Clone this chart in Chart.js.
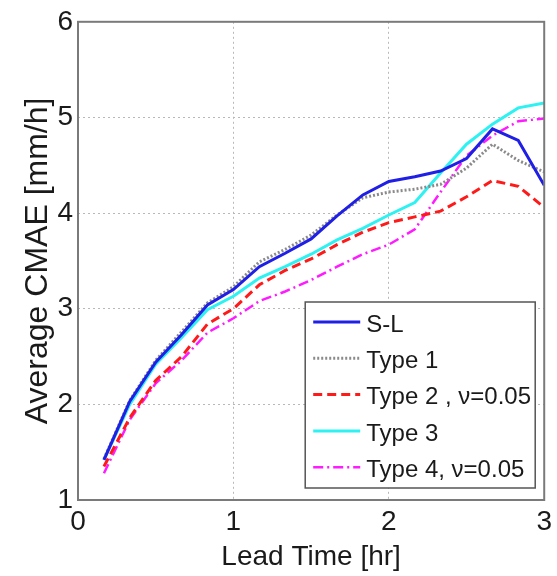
<!DOCTYPE html>
<html>
<head>
<meta charset="utf-8">
<script src="https://cdn.jsdelivr.net/npm/chart.js@4/dist/chart.umd.min.js"></script>
<style>
  html, body { margin: 0; padding: 0; background: #fff; }
  #wrap { width: 557px; height: 576px; }
</style>
</head>
<body>
<div id="wrap"><canvas id="cmae"></canvas></div>
<script>
// Lead time (hr) and average CMAE (mm/h) per model
const leadTime = [0.167, 0.333, 0.5, 0.667, 0.833, 1.0, 1.167, 1.333, 1.5, 1.667, 1.833, 2.0, 2.167, 2.333, 2.5, 2.667, 2.833, 3.0];
const sL    = [1.42, 2.03, 2.44, 2.73, 3.04, 3.20, 3.44, 3.58, 3.73, 3.97, 4.19, 4.33, 4.38, 4.44, 4.57, 4.88, 4.76, 4.29];
const type1 = [1.43, 2.04, 2.46, 2.76, 3.06, 3.23, 3.49, 3.62, 3.77, 3.98, 4.16, 4.22, 4.25, 4.30, 4.47, 4.72, 4.55, 4.43];
const type2 = [1.35, 1.86, 2.25, 2.50, 2.84, 3.00, 3.25, 3.40, 3.52, 3.67, 3.80, 3.90, 3.96, 4.02, 4.17, 4.34, 4.28, 4.06];
const type3 = [1.42, 2.00, 2.42, 2.70, 2.99, 3.13, 3.32, 3.44, 3.57, 3.72, 3.84, 3.98, 4.11, 4.42, 4.72, 4.93, 5.10, 5.15];
const type4 = [1.28, 1.84, 2.22, 2.46, 2.75, 2.90, 3.08, 3.18, 3.30, 3.44, 3.57, 3.67, 3.83, 4.22, 4.60, 4.81, 4.96, 4.99];

const seriesLabels = ['S-L', 'Type 1', 'Type 2 , \u03bd=0.05', 'Type 3', 'Type 4, \u03bd=0.05'];
const xTicks = [0, 1, 2, 3];
const yTicks = [1, 2, 3, 4, 5, 6];

const FONT = "'Liberation Sans', Arial, sans-serif";

const pts = arr => arr.map((v, i) => ({ x: leadTime[i], y: v }));

const styles = [
    { color: '#1f1fe6', width: 3, dash: [] },
    { color: '#8a8a8a', width: 3, dash: [2, 2] },
    { color: '#ff1a1a', width: 3, dash: [9, 5] },
    { color: '#2ef2f2', width: 3, dash: [] },
    { color: '#ff1aff', width: 2.5, dash: [10, 4, 2, 4] },
];
const allSeries = [sL, type1, type2, type3, type4];

const datasets = allSeries.map((s, i) => ({
    label: seriesLabels[i],
    data: pts(s),
    borderColor: styles[i].color,
    borderWidth: styles[i].width,
    borderDash: styles[i].dash,
    pointRadius: 0,
    tension: 0,
    fill: false,
}));

// Box around the axes + legend inside the plot (MATLAB style)
const framePlugin = {
    id: 'frame',
    afterDatasetsDraw: (chart) => {
        const { ctx: c, chartArea: a } = chart;
        c.save();
        c.strokeStyle = '#7a7a7a';
        c.lineWidth = 2;
        c.strokeRect(a.left, a.top, a.right - a.left, a.bottom - a.top);

        // legend
        const w = 230, h = 186;
        const bx = a.right - 9 - w, by = a.bottom - 12 - h;
        c.fillStyle = '#fff';
        c.fillRect(bx, by, w, h);
        c.strokeStyle = '#555';
        c.lineWidth = 1.5;
        c.strokeRect(bx, by, w, h);
        c.font = '24px ' + FONT;
        c.textBaseline = 'middle';
        c.textAlign = 'left';
        seriesLabels.forEach((lab, i) => {
            const y = by + 20 + i * 36.3;
            c.beginPath();
            c.setLineDash(styles[i].dash);
            c.strokeStyle = styles[i].color;
            c.lineWidth = styles[i].width;
            c.moveTo(bx + 8, y);
            c.lineTo(bx + 55, y);
            c.stroke();
            c.setLineDash([]);
            c.fillStyle = '#1a1a1a';
            c.fillText(lab, bx + 61, y + 3);
        });
        c.restore();
    },
};

new Chart(document.getElementById('cmae'), {
    type: 'line',
    data: { datasets },
    options: {
        responsive: true,
        maintainAspectRatio: false,
        animation: false,
        layout: { padding: { top: 19, right: 11, left: 0, bottom: 0 } },
        plugins: { legend: { display: false }, tooltip: { enabled: false } },
        scales: {
            x: {
                type: 'linear',
                min: 0, max: 3,
                afterBuildTicks: (ax) => { ax.ticks = xTicks.map(v => ({ value: v })); },
                afterFit: (ax) => { ax.height = 76; },
                border: { display: false, dash: [2, 3] },
                grid: { color: '#b8b8b8', drawTicks: false, lineWidth: 1 },
                ticks: { font: { family: FONT, size: 28 }, color: '#1a1a1a', padding: 5 },
                title: { display: true, text: 'Lead Time [hr]', font: { family: FONT, size: 28 }, color: '#1a1a1a', padding: { top: 0, bottom: 2 } },
            },
            y: {
                min: 1, max: 6,
                afterBuildTicks: (ax) => { ax.ticks = yTicks.map(v => ({ value: v })); },
                afterFit: (ax) => { ax.width = 78; },
                border: { display: false, dash: [2, 3] },
                grid: { color: '#b8b8b8', drawTicks: false, lineWidth: 1 },
                ticks: { font: { family: FONT, size: 28 }, color: '#1a1a1a', padding: 5 },
                title: { display: true, text: 'Average CMAE [mm/h]', font: { family: FONT, size: 32 }, color: '#1a1a1a', padding: { top: 19, bottom: 0 } },
            },
        },
    },
    plugins: [framePlugin],
});
</script>
</body>
</html>
